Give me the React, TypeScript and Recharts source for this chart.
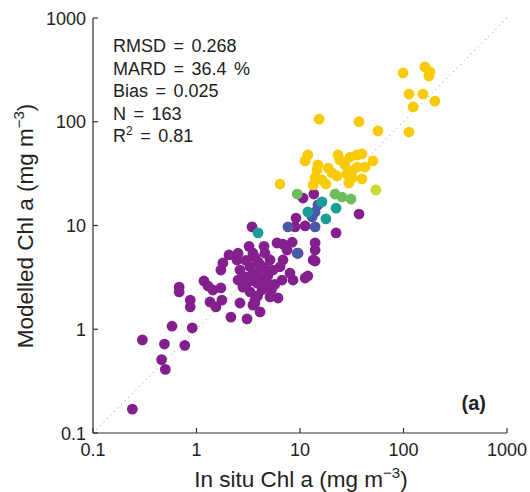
import {
  ScatterChart,
  Scatter,
  XAxis,
  YAxis,
  ReferenceLine,
} from "recharts";

// in situ vs modelled Chl a (mg m-3), grouped by marker colour
const purplePts = [
  [0.24, 0.17], [0.3, 0.79], [0.49, 0.72], [0.77, 0.7], [0.46, 0.51], [0.5, 0.41],
  [0.58, 1.07], [0.91, 1.03], [0.68, 2.55], [0.68, 2.29], [0.87, 1.91], [0.87, 1.64],
  [1.18, 2.92], [1.29, 2.61], [1.44, 2.39], [1.72, 2.5], [1.35, 1.83], [1.76, 1.91],
  [1.54, 1.64], [2.15, 1.31], [3.08, 1.26], [2.63, 1.79], [3.67, 1.79], [4.11, 1.47],
  [2.06, 5.2], [1.8, 4.35], [1.72, 3.72], [2.46, 4.65], [2.52, 2.98], [3.44, 9.7],
  [8.95, 9.7], [11.2, 9.9], [3.22, 6.3], [4.49, 6.3], [6.0, 6.8], [6.85, 6.6],
  [8.4, 6.9], [14.0, 6.8], [14.0, 5.8], [2.52, 5.4], [3.51, 5.4], [4.59, 5.4],
  [7.5, 5.8], [13.4, 4.65], [6.85, 4.65], [5.13, 4.65], [3.93, 4.45], [3.29, 4.0],
  [2.63, 3.72], [2.94, 3.19], [3.84, 3.48], [5.48, 3.72], [6.41, 4.0], [8.0, 3.48],
  [6.7, 2.98], [8.56, 2.98], [11.2, 3.12], [11.9, 3.26], [2.81, 2.55], [3.84, 2.79],
  [4.8, 2.79], [3.29, 2.29], [5.13, 2.05], [6.13, 2.0], [3.67, 1.91], [3.51, 1.71],
  [14.0, 4.55], [9.57, 5.4], [9.15, 11.8], [22.3, 8.5], [37.2, 12.9], [10.7, 18.4],
  [13.6, 20.1], [4.1, 4.2], [4.3, 3.1], [4.9, 3.3], [5.7, 2.7], [3.15, 2.85],
  [3.7, 4.9], [4.3, 2.4], [3.0, 4.6], [5.3, 2.4], [4.6, 3.9], [3.45, 3.35], [3.9, 2.1],
];
const bluePts = [[7.65, 9.7], [14.0, 9.7], [14.9, 15.8], [14.0, 13.5], [9.4, 5.4], [13.1, 12.1]];
const tealPts = [[3.93, 8.5], [16.3, 16.9], [11.9, 13.5], [22.3, 14.7], [17.8, 11.6]];
const greenPts = [[9.4, 20.1], [21.8, 20.1], [25.5, 18.8], [31.1, 18.0]];
const limePts = [[54, 22]];
const yellowPts = [
  [99, 295], [161, 337], [180, 302], [176, 276], [113, 185], [154, 185], [201, 158],
  [124, 139], [37.2, 100], [56.7, 81.5], [113, 79.6], [15.3, 106], [11.2, 41.9],
  [11.9, 47.8], [23.3, 47.8], [24.3, 42.8], [30.4, 45.7], [35.6, 47.8], [39.7, 48.9],
  [50.7, 41.9], [42.5, 36.6], [35.6, 36.6], [31.8, 33.5], [28.4, 31.3], [18.7, 35.8],
  [20.4, 32.1], [14.6, 34.3], [14.0, 28.7], [13.4, 24.6], [16.3, 27.5], [17.8, 25.1],
  [22.8, 30.0], [31.8, 28.7], [29.7, 25.7], [39.7, 28.1], [6.41, 25.1], [14.9, 38.3],
  [27.2, 38.3],
];

const logTicks = [0.1, 1, 10, 100, 1000];
const tickLabels = ["0.1", "1", "10", "100", "1000"];
const stats = ["RMSD = 0.268", "MARD = 36.4 %", "Bias = 0.025", "N = 163"];

const FONT = "'Liberation Sans', Arial, Helvetica, sans-serif";
const INK = "#222";
const AXIS = "#333";

const toPts = (arr: number[][]) => arr.map(([x, y]) => ({ x, y }));

const series = [
  { name: "purple", data: toPts(purplePts), color: "#84208E" },
  { name: "blue", data: toPts(bluePts), color: "#4A5BA6" },
  { name: "teal", data: toPts(tealPts), color: "#1B9E97" },
  { name: "green", data: toPts(greenPts), color: "#6DBE5A" },
  { name: "lime", data: toPts(limePts), color: "#CADB2E" },
  { name: "yellow", data: toPts(yellowPts), color: "#F9CB06" },
];

const label = (v: number) => tickLabels[logTicks.indexOf(v)] ?? String(v);

const BottomTick = (p: any) => (
  <g>
    <line x1={p.x} y1={p.y} x2={p.x} y2={p.y - 5} stroke={AXIS} strokeWidth={1.2} />
    <text x={p.x} y={p.y + 23} textAnchor="middle" fontSize={18} fontFamily={FONT} fill={INK}>
      {label(p.payload.value)}
    </text>
  </g>
);

const LeftTick = (p: any) => (
  <g>
    <line x1={p.x} y1={p.y} x2={p.x + 5} y2={p.y} stroke={AXIS} strokeWidth={1.2} />
    <text x={p.x - 7} y={p.y + 6.5} textAnchor="end" fontSize={18} fontFamily={FONT} fill={INK}>
      {label(p.payload.value)}
    </text>
  </g>
);

const TopTick = (p: any) => (
  <line x1={p.x} y1={p.y} x2={p.x} y2={p.y + 5} stroke={AXIS} strokeWidth={1.2} />
);

const RightTick = (p: any) => (
  <line x1={p.x} y1={p.y} x2={p.x - 5} y2={p.y} stroke={AXIS} strokeWidth={1.2} />
);

const dot = (color: string) => (p: any) =>
  <circle cx={p.cx} cy={p.cy} r={5.4} fill={color} />;

export default function App() {
  return (
    <div style={{ position: "absolute", left: 0, top: 0, width: 530, height: 492, background: "#fff" }}>
      <ScatterChart width={530} height={492} margin={{ top: 18, right: 23, bottom: 14, left: 33 }}>
        <XAxis
          dataKey="x"
          type="number"
          scale="log"
          domain={[0.1, 1000]}
          ticks={logTicks}
          interval={0}
          allowDataOverflow
          height={45}
          tickSize={0}
          tickMargin={0}
          tickLine={false}
          axisLine={{ stroke: AXIS, strokeWidth: 1.2 }}
          tick={BottomTick}
        />
        <XAxis
          xAxisId="top"
          orientation="top"
          dataKey="x"
          type="number"
          scale="log"
          domain={[0.1, 1000]}
          ticks={logTicks}
          interval={0}
          allowDataOverflow
          height={0}
          tickSize={0}
          tickMargin={0}
          tickLine={false}
          axisLine={{ stroke: AXIS, strokeWidth: 1.2 }}
          tick={TopTick}
        />
        <YAxis
          dataKey="y"
          type="number"
          scale="log"
          domain={[0.1, 1000]}
          ticks={logTicks}
          interval={0}
          allowDataOverflow
          width={60}
          tickSize={0}
          tickMargin={0}
          tickLine={false}
          axisLine={{ stroke: AXIS, strokeWidth: 1.2 }}
          tick={LeftTick}
        />
        <YAxis
          yAxisId="right"
          orientation="right"
          dataKey="y"
          type="number"
          scale="log"
          domain={[0.1, 1000]}
          ticks={logTicks}
          interval={0}
          allowDataOverflow
          width={0}
          tickSize={0}
          tickMargin={0}
          tickLine={false}
          axisLine={{ stroke: AXIS, strokeWidth: 1.2 }}
          tick={RightTick}
        />
        <ReferenceLine
          segment={[{ x: 0.1, y: 0.1 }, { x: 1000, y: 1000 }]}
          stroke="#888"
          strokeWidth={1}
          strokeDasharray="1 4"
          ifOverflow="visible"
        />
        {series.map((s) => (
          <Scatter
            key={s.name}
            name={s.name}
            data={s.data}
            fill={s.color}
            shape={dot(s.color)}
            isAnimationActive={false}
          />
        ))}
      </ScatterChart>
      <svg
        width={530}
        height={492}
        style={{ position: "absolute", left: 0, top: 0, pointerEvents: "none" }}
        fontFamily={FONT}
        fill={INK}
      >
        {stats.map((s, i) => (
          <text key={s} x={113} y={52 + i * 22.5} fontSize={18} wordSpacing={2.5}>
            {s}
          </text>
        ))}
        <text x={113} y={142} fontSize={18} wordSpacing={2.5}>
          R<tspan dy={-7} fontSize={12}>2</tspan>
          <tspan dy={7}> = 0.81</tspan>
        </text>
        <text x={486} y={410} fontSize={20} fontWeight="bold" textAnchor="end">
          (a)
        </text>
        <text x={301} y={487} fontSize={22.5} textAnchor="middle">
          In situ Chl a (mg m<tspan dy={-9} fontSize={15}>−3</tspan>
          <tspan dy={9}>)</tspan>
        </text>
        <text x={33} y={226} fontSize={22.5} textAnchor="middle" transform="rotate(-90 33 226)">
          Modelled Chl a (mg m<tspan dy={-9} fontSize={15}>−3</tspan>
          <tspan dy={9}>)</tspan>
        </text>
      </svg>
    </div>
  );
}
